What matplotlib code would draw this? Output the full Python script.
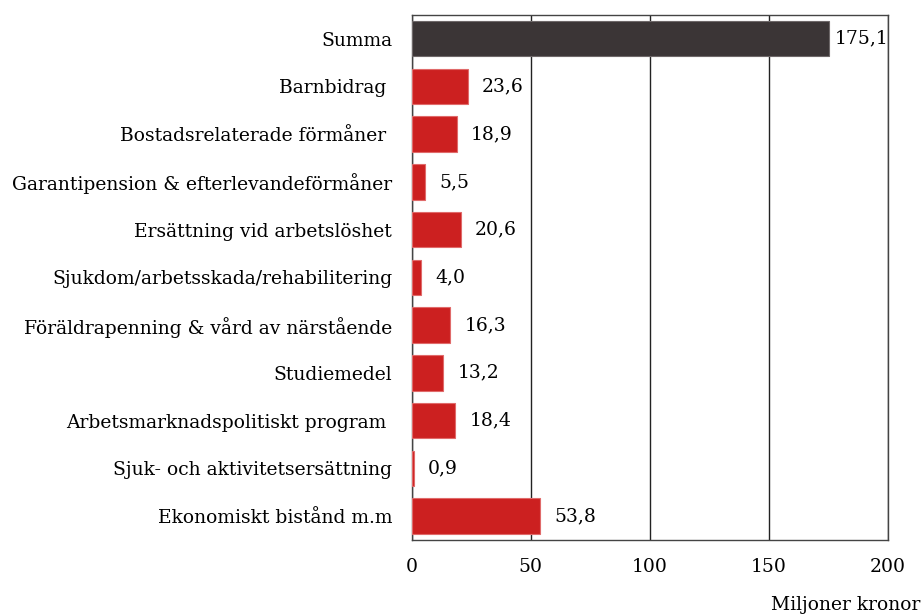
import matplotlib
matplotlib.use("Agg")
import matplotlib.pyplot as plt

categories = ["Summa", "Barnbidrag ", "Bostadsrelaterade förmåner ",
              "Garantipension & efterlevandeförmåner", "Ersättning vid arbetslöshet",
              "Sjukdom/arbetsskada/rehabilitering", "Föräldrapenning & vård av närstående",
              "Studiemedel", "Arbetsmarknadspolitiskt program ",
              "Sjuk- och aktivitetsersättning", "Ekonomiskt bistånd m.m"]
values = [175.1, 23.6, 18.9, 5.5, 20.6, 4.0, 16.3, 13.2, 18.4, 0.9, 53.8]
xticks = [0, 50, 100, 150, 200]

plt.rcParams['font.family'] = ['DejaVu Serif']
plt.rcParams['font.size'] = 13.5

fig = plt.figure(figsize=(9.21, 6.15), dpi=100)
ax = fig.add_axes([0.447, 0.122, 0.517, 0.854])

colors = ['#3b3536'] + ['#cc2020'] * (len(values) - 1)
edges = ['#6e6869'] + ['#e06a6a'] * (len(values) - 1)
ypos = list(range(len(values)))
ax.barh(ypos, values, height=0.74, color=colors, edgecolor=edges, linewidth=0.8, zorder=3)

for y, v in zip(ypos, values):
    # less room next to the long bar
    off = 6 if v < 150 else 2.5
    ax.text(v + off, y, f"{v:.1f}".replace(".", ","), va='center', ha='left', zorder=4)

ax.set_ylim(10.5, -0.5)
ax.set_xlim(0, 200)
ax.set_yticks(ypos)
ax.set_yticklabels(categories)
ax.set_xticks(xticks)
ax.set_xticklabels([str(t) for t in xticks])
ax.tick_params(axis='both', length=0)
ax.tick_params(axis='y', pad=14)
ax.tick_params(axis='x', pad=13)
ax.xaxis.grid(True, color='#222222', linewidth=1.0, zorder=0)
ax.set_axisbelow(True)
for s in ax.spines.values():
    s.set_color('#444444')
    s.set_linewidth(1.0)

fig.text(0.999, 0.002, "Miljoner kronor", ha='right', va='bottom')

fig.savefig("out.png", dpi=100)
